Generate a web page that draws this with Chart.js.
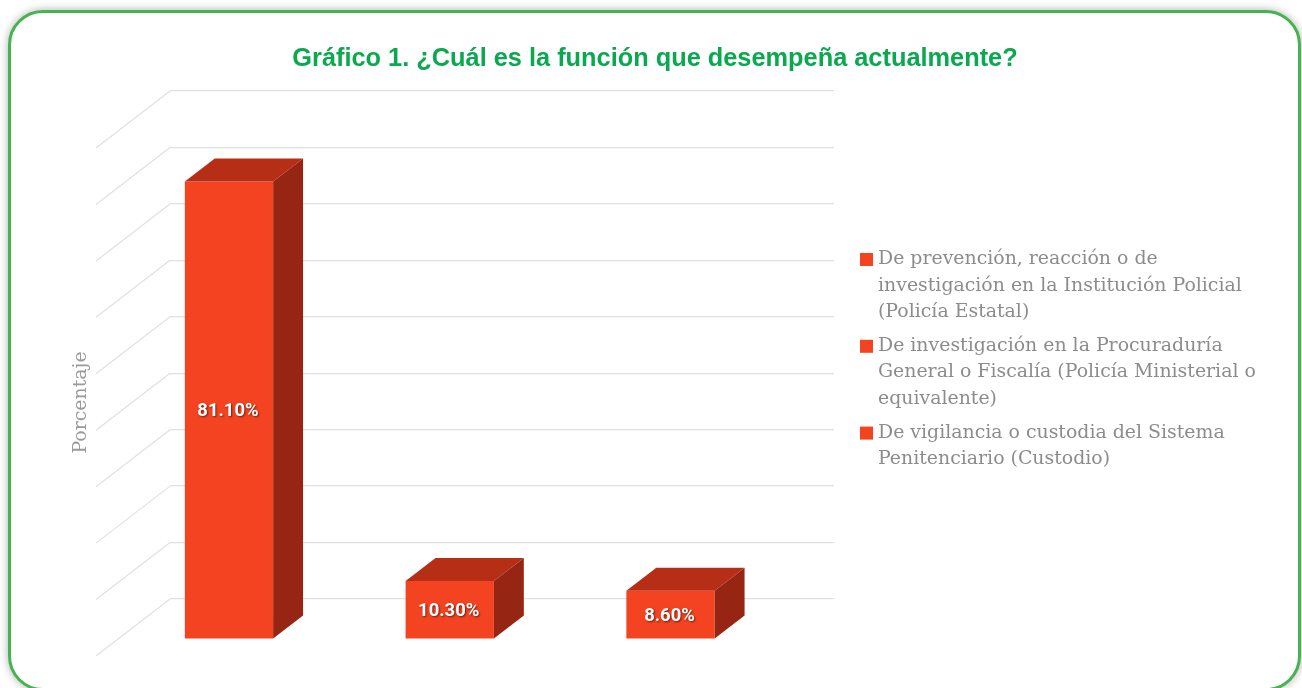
<!DOCTYPE html>
<html lang="es">
<head>
<meta charset="utf-8">
<title>Gráfico 1</title>
<script src="https://cdn.jsdelivr.net/npm/chart.js@4"></script>
<style>
html,body{margin:0;padding:0;width:1302px;height:688px;overflow:hidden;background:#fff}
#frame{position:absolute;left:8px;top:10px;width:1287px;height:675px;border:3px solid #46B44E;border-radius:35px;box-shadow:0 0 9px rgba(0,0,0,.32);background:#fff}
#c{position:absolute;left:0;top:0}
</style>
</head>
<body>
<div id="frame"></div>
<canvas id="c" width="1302" height="688"></canvas>
<script>
const chartTitle = "Gráfico 1. ¿Cuál es la función que desempeña actualmente?";
const yAxisTitle = "Porcentaje";
const categories = [
  ["De prevención, reacción o de", "investigación en la Institución Policial", "(Policía Estatal)"],
  ["De investigación en la Procuraduría", "General o Fiscalía (Policía Ministerial o", "equivalente)"],
  ["De vigilancia o custodia del Sistema", "Penitenciario (Custodio)"]
];
const values = [81.1, 10.3, 8.6];
const valueLabels = ["81.10%", "10.30%", "8.60%"];

const BAR = "#F44321", TOP = "#B62E16", SIDE = "#962513", GRID = "#E0E0E0";
const SERIF = '"DejaVu Serif"';

const threeD = {
  id: "threeD",
  beforeDatasetsDraw(chart) {
    const c = chart.ctx, a = chart.chartArea, s = chart.scales.y;
    c.save();
    c.strokeStyle = GRID; c.lineWidth = 1.2;
    s.ticks.forEach(t => {
      const y = s.getPixelForValue(t.value);
      c.beginPath(); c.moveTo(a.left, y); c.lineTo(a.left - 74, y + 57); c.stroke();
    });
    c.restore();
    c.save();
    c.translate(-50.94, 40.2);
    c.scale(0.9974, 1);
  },
  afterDatasetsDraw(chart) {
    const c = chart.ctx, dx = 30, dy = -23;
    chart.getDatasetMeta(0).data.forEach((b, i) => {
      const l = b.x - b.width / 2, r = b.x + b.width / 2, t = b.y, bt = b.base;
      c.fillStyle = TOP;
      c.beginPath(); c.moveTo(l, t); c.lineTo(l + dx, t + dy); c.lineTo(r + dx, t + dy); c.lineTo(r, t); c.closePath(); c.fill();
      c.fillStyle = SIDE;
      c.beginPath(); c.moveTo(r, t); c.lineTo(r + dx, t + dy); c.lineTo(r + dx, bt + dy); c.lineTo(r, bt); c.closePath(); c.fill();
      c.save();
      c.font = 'bold 18.5px Roboto'; c.fillStyle = "#fff";
      c.textAlign = "center"; c.textBaseline = "middle";
      c.shadowColor = "rgba(0,0,0,.55)"; c.shadowBlur = 2; c.shadowOffsetX = 1; c.shadowOffsetY = 1;
      c.fillText(valueLabels[i], b.x - 1, (t + bt) / 2 + 1.5);
      c.restore();
    });
    c.restore();
  },
  afterDraw(chart) {
    const c = chart.ctx;
    c.save();
    c.fillStyle = "#9A9A9A"; c.font = `18.9px ${SERIF}`;
    c.textAlign = "center"; c.textBaseline = "middle";
    c.translate(81, 402.5); c.rotate(-Math.PI / 2);
    c.fillText(yAxisTitle, 0, 0);
    c.restore();
    c.save();
    c.font = `18.9px ${SERIF}`; c.textBaseline = "middle"; c.textAlign = "left";
    let y = 259;
    categories.forEach(lines => {
      c.fillStyle = BAR;
      c.fillRect(860, y - 6, 13, 13);
      c.fillStyle = "#8C8C8C";
      lines.forEach((ln, i) => c.fillText(ln, 878, y + i * 26.6));
      y += lines.length * 26.6 + 7;
    });
    c.restore();
  }
};

new Chart(document.getElementById("c"), {
  type: "bar",
  data: {
    labels: categories,
    datasets: [{
      label: yAxisTitle,
      data: values,
      yAxisID: "y",
      backgroundColor: BAR,
      barPercentage: 0.4,
      categoryPercentage: 1,
      clip: false
    }]
  },
  plugins: [threeD],
  options: {
    responsive: false,
    animation: false,
    layout: { padding: { left: 8, right: 0, top: 0, bottom: 89 } },
    plugins: {
      legend: { display: false },
      tooltip: { enabled: false },
      title: {
        display: true,
        text: chartTitle,
        color: "#0AA84F",
        font: { family: '"Liberation Sans"', size: 25.35, weight: "bold", lineHeight: 1.2 },
        padding: { top: 44, bottom: 16.6 }
      }
    },
    scales: {
      x: { display: false, offset: true },
      y: {
        min: 0, max: 90,
        position: "left",
        ticks: { display: false, stepSize: 10 },
        border: { display: false },
        grid: { color: GRID, lineWidth: 1.3, drawTicks: false },
        afterFit(s) { s.width = 162; }
      },
      spare: {
        position: "right",
        display: true,
        ticks: { display: false },
        border: { display: false },
        grid: { display: false },
        afterFit(s) { s.width = 468; }
      }
    }
  }
});
</script>
</body>
</html>
